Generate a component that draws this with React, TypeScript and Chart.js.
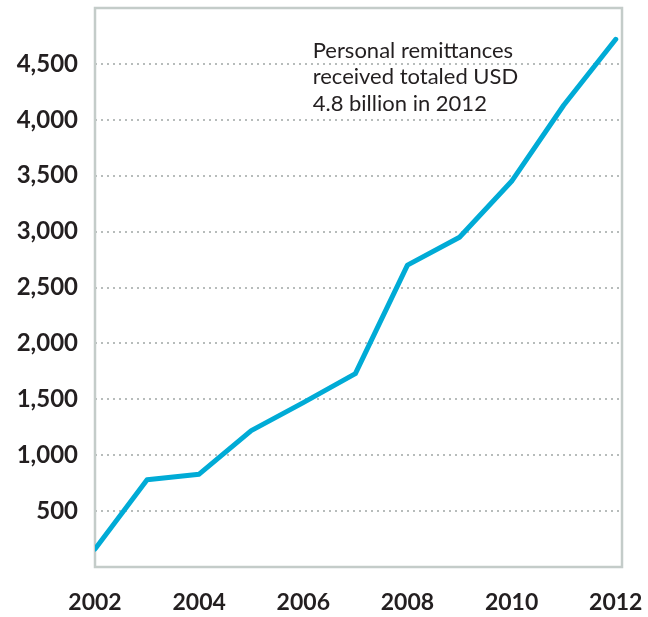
import React, { useEffect, useRef } from "react";
import { Chart, registerables } from "chart.js";

Chart.register(...registerables);

const years = [2002, 2003, 2004, 2005, 2006, 2007, 2008, 2009, 2010, 2011, 2012];
const remittances = [160, 780, 830, 1220, 1470, 1730, 2700, 2950, 3450, 4130, 4720];
const xTickValues = [2002, 2004, 2006, 2008, 2010, 2012];
const yTickValues = [500, 1000, 1500, 2000, 2500, 3000, 3500, 4000, 4500];
const annotationLines = ["Personal remittances", "received totaled USD", "4.8 billion in 2012"];
const annotationAnchor = { year: 2006.18, value: 4620, lineStep: 240 };

const LINE_COLOR = "#00abd6";
const FRAME_COLOR = "#c4ccc9";
const GRID_COLOR = "#b7bcbb";
const TEXT_COLOR = "#231f20";

export default function App() {
  const canvasRef = useRef<HTMLCanvasElement | null>(null);

  useEffect(() => {
    document.body.style.margin = "0";
    const canvas = canvasRef.current;
    if (!canvas) return;

    const framePlugin = {
      id: "framePlugin",
      beforeDatasetsDraw(chart: any) {
        const { ctx, chartArea } = chart;
        const { left, top, right, bottom } = chartArea;
        ctx.save();
        ctx.strokeStyle = FRAME_COLOR;
        ctx.lineWidth = 2.5;
        ctx.strokeRect(left, top, right - left, bottom - top);
        ctx.restore();
      },
      afterDraw(chart: any) {
        const { ctx } = chart;
        const xs = chart.scales.x;
        const ys = chart.scales.y;
        ctx.save();
        ctx.fillStyle = TEXT_COLOR;
        ctx.font = "22px Lato";
        ctx.textAlign = "left";
        ctx.textBaseline = "middle";
        annotationLines.forEach((line, i) => {
          const x = xs.getPixelForValue(annotationAnchor.year);
          const y = ys.getPixelForValue(annotationAnchor.value - i * annotationAnchor.lineStep);
          ctx.fillText(line, x, y);
        });
        ctx.restore();
      },
    };

    const chart = new Chart(canvas, {
      type: "line",
      data: {
        datasets: [
          {
            data: years.map((y, i) => ({ x: y, y: remittances[i] })),
            borderColor: LINE_COLOR,
            borderWidth: 5,
            pointRadius: 0,
            tension: 0,
            fill: false,
            borderCapStyle: "round",
            borderJoinStyle: "round",
          },
        ],
      },
      options: {
        animation: false,
        responsive: true,
        maintainAspectRatio: false,
        layout: { padding: { top: 8, right: 26, left: 0, bottom: 0 } },
        plugins: {
          legend: { display: false },
          tooltip: { enabled: false },
        },
        scales: {
          x: {
            type: "linear",
            min: 2002,
            max: 2012.12,
            afterBuildTicks: (scale: any) => {
              scale.ticks = xTickValues.map((v) => ({ value: v }));
            },
            afterFit: (scale: any) => {
              scale.height = 50;
              scale.paddingLeft = 0;
              scale.paddingRight = 0;
            },
            grid: { display: false, drawTicks: false },
            border: { display: false },
            ticks: {
              padding: 22,
              color: TEXT_COLOR,
              font: { family: "Lato", size: 23, weight: "bold" },
              maxRotation: 0,
              autoSkip: false,
              callback: (v: any) => String(v),
            },
          },
          y: {
            type: "linear",
            min: 0,
            max: 5000,
            afterBuildTicks: (scale: any) => {
              scale.ticks = yTickValues.map((v) => ({ value: v }));
            },
            afterFit: (scale: any) => {
              scale.width = 95;
              scale.paddingTop = 0;
              scale.paddingBottom = 0;
            },
            grid: {
              drawTicks: false,
              color: GRID_COLOR,
              lineWidth: 2,
            },
            border: { display: false, dash: [2, 4] },
            ticks: {
              padding: 17,
              color: TEXT_COLOR,
              font: { family: "Lato", size: 24, weight: "bold" },
              autoSkip: false,
              callback: (v: any) => Number(v).toLocaleString("en-US"),
            },
          },
        },
      },
      plugins: [framePlugin],
    } as any);

    return () => chart.destroy();
  }, []);

  return (
    <div style={{ position: "fixed", left: 0, top: 0, width: 648, height: 617 }}>
      <canvas ref={canvasRef} />
    </div>
  );
}
